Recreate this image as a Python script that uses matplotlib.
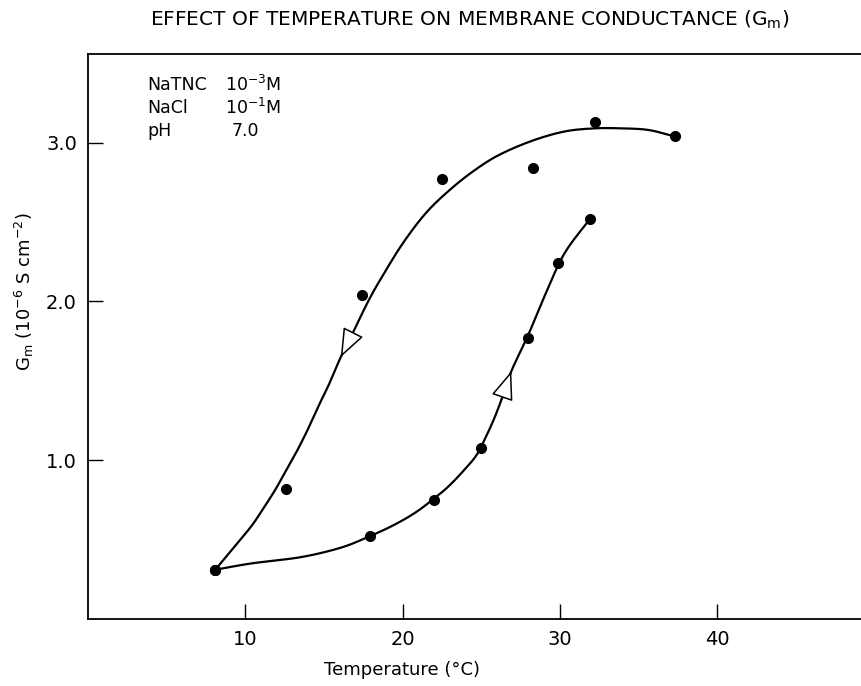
import matplotlib
matplotlib.use("Agg")
import matplotlib.pyplot as plt
import numpy as np

# measured points (cooling run, high -> low temperature)
cool_T = [37.3, 32.2, 28.3, 22.5, 17.4, 12.6, 8.1]
cool_G = [3.04, 3.13, 2.84, 2.77, 2.04, 0.82, 0.31]
# measured points (heating run)
heat_T = [8.1, 17.9, 22.0, 25.0, 28.0, 29.9, 31.9]
heat_G = [0.31, 0.52, 0.75, 1.08, 1.77, 2.24, 2.52]

# hand-drawn curves
cool_curve_T = [37.27, 35.62, 33.90, 32.19, 30.28, 28.18, 26.08, 24.49, 22.97, 21.51,
                20.11, 18.90, 17.86, 16.68, 16.07, 15.33, 14.84, 14.15, 13.40, 12.73,
                12.00, 11.37, 10.50, 9.52, 8.09]
cool_curve_G = [3.04, 3.08, 3.09, 3.09, 3.07, 3.01, 2.92, 2.82, 2.70, 2.56,
                2.38, 2.19, 2.01, 1.77, 1.65, 1.48, 1.38, 1.23, 1.08, 0.96,
                0.83, 0.73, 0.60, 0.48, 0.31]
heat_curve_T = [8.09, 10.38, 13.56, 16.10, 17.88, 19.41, 20.81, 21.95, 22.97, 24.11,
                24.75, 25.26, 25.77, 26.28, 26.91, 27.99, 29.01, 29.90, 30.53, 31.36, 31.93]
heat_curve_G = [0.31, 0.35, 0.39, 0.45, 0.52, 0.59, 0.67, 0.755, 0.84, 0.96,
                1.04, 1.14, 1.25, 1.38, 1.56, 1.79, 2.03, 2.23, 2.34, 2.45, 2.52]
cool_arrow = (13, 14)   # indices: arrow from -> to (tip)
heat_arrow = (13, 14)

x_ticks = [10, 20, 30, 40]
x_ticklabels = ["10", "20", "30", "40"]
y_ticks = [1.0, 2.0, 3.0]
y_ticklabels = ["1.0", "2.0", "3.0"]


def smooth(xs, ys, n=12):
    """Catmull-Rom rendering of a traced hand-drawn curve."""
    p = np.column_stack([xs, ys])
    p = np.vstack([p[0] * 2 - p[1], p, p[-1] * 2 - p[-2]])
    out = []
    t = np.linspace(0, 1, n, endpoint=False)[:, None]
    for i in range(1, len(p) - 2):
        p0, p1, p2, p3 = p[i - 1], p[i], p[i + 1], p[i + 2]
        seg = 0.5 * ((2 * p1) + (-p0 + p2) * t + (2 * p0 - 5 * p1 + 4 * p2 - p3) * t ** 2
                     + (-p0 + 3 * p1 - 3 * p2 + p3) * t ** 3)
        out.append(seg)
    out.append(p[-2][None, :])
    out = np.vstack(out)
    return out[:, 0], out[:, 1]


plt.rcParams['font.family'] = ['DejaVu Sans']

fig = plt.figure(figsize=(8.62, 6.86), dpi=100)
ax = fig.add_axes([88 / 862, 67 / 686, 786.5 / 862, 0.824])
ax.set_xlim(0, 50)
ax.set_ylim(0, 3.56)

cx, cy = smooth(cool_curve_T, cool_curve_G)
hx, hy = smooth(heat_curve_T, heat_curve_G)
ax.plot(cx, cy, color='black', lw=1.6, solid_joinstyle='round', zorder=2)
ax.plot(hx, hy, color='black', lw=1.6, solid_joinstyle='round', zorder=2)
ax.plot(cool_T, cool_G, 'o', color='black', ms=7, zorder=3)
ax.plot(heat_T, heat_G, 'o', color='black', ms=7, zorder=3)

arrow_kw = dict(arrowstyle='-|>,head_length=0.9,head_width=0.35', mutation_scale=20,
                fc='white', ec='black', lw=1.1, shrinkA=0, shrinkB=0)
a, b = cool_arrow
ax.annotate('', xy=(cool_curve_T[b], cool_curve_G[b]), xytext=(cool_curve_T[a], cool_curve_G[a]),
            arrowprops=arrow_kw, zorder=4)
a, b = heat_arrow
ax.annotate('', xy=(heat_curve_T[b], heat_curve_G[b]), xytext=(heat_curve_T[a], heat_curve_G[a]),
            arrowprops=arrow_kw, zorder=4)

ax.set_xticks(x_ticks)
ax.set_xticklabels(x_ticklabels, fontsize=14)
ax.set_yticks(y_ticks)
ax.set_yticklabels(y_ticklabels, fontsize=14)
ax.tick_params(direction='in', length=11, width=1.0, pad=8)
for s in ax.spines.values():
    s.set_linewidth(1.3)
ax.spines['right'].set_visible(False)

ax.set_xlabel('Temperature (°C)', fontsize=13)
ax.set_ylabel(r'G$_\mathrm{m}$ (10$^{-6}$ S cm$^{-2}$)', fontsize=13)
ax.yaxis.set_label_coords(-0.066, 0.58)
ax.xaxis.set_label_coords((402 - 88) / 786.5, -0.075)

fig.text(470 / 862, 1 - 20 / 686, r'EFFECT OF TEMPERATURE ON MEMBRANE CONDUCTANCE (G$_\mathrm{m}$)',
         ha='center', va='center', fontsize=14.5)

info_left = ['NaTNC', 'NaCl', 'pH']
info_right = [r'10$^{-3}$M', r'10$^{-1}$M', '7.0']
info_x = [225, 225, 232]
info_y = [85, 108, 131]
for lab, val, px, py in zip(info_left, info_right, info_x, info_y):
    fig.text(147 / 862, 1 - py / 686, lab, ha='left', va='center', fontsize=12.5)
    fig.text(px / 862, 1 - py / 686, val, ha='left', va='center', fontsize=12.5)

fig.savefig('out.png', dpi=100)
